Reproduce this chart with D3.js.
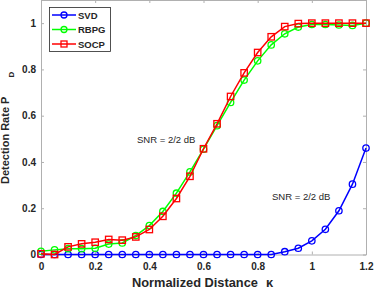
<!DOCTYPE html>
<html>
<head>
<meta charset="utf-8">
<script src="https://cdn.jsdelivr.net/npm/d3@7"></script>
<style>
  body { margin: 0; background: #fff; }
  text { font-family: "Liberation Sans", Arial, sans-serif; }
</style>
</head>
<body>
<div id="chart"></div>
<script>
// distances kappa, one point every 0.05
const kappa = [0, 0.05, 0.1, 0.15, 0.2, 0.25, 0.3, 0.35, 0.4, 0.45, 0.5, 0.55, 0.6,
  0.65, 0.7, 0.75, 0.8, 0.85, 0.9, 0.95, 1, 1.05, 1.1, 1.15, 1.2];
const svdVals = [0, 0, 0, 0, 0, 0, 0, 0, 0, 0, 0, 0, 0, 0, 0, 0, 0, 0,
  0.012, 0.027, 0.059, 0.109, 0.189, 0.304, 0.46];
const rbpgVals = [0.014, 0.02, 0.025, 0.025, 0.027, 0.045, 0.05, 0.082, 0.125, 0.186, 0.265,
  0.357, 0.455, 0.557, 0.657, 0.754, 0.837, 0.906, 0.954, 0.983, 0.994, 0.994, 0.992, 0.99, 1.0];
const socpVals = [0.003, 0, 0.033, 0.046, 0.053, 0.065, 0.062, 0.076, 0.108, 0.165, 0.242,
  0.338, 0.457, 0.565, 0.683, 0.785, 0.873, 0.941, 0.985, 0.998, 1, 1, 1, 1, 1];
const xTicks = [0, 0.2, 0.4, 0.6, 0.8, 1, 1.2];
const yTicks = [0, 0.2, 0.4, 0.6, 0.8, 1];

const series = [
  { name: 'SVD', values: svdVals, color: '#0000ff', marker: 'circle' },
  { name: 'RBPG', values: rbpgVals, color: '#00ff00', marker: 'circle' },
  { name: 'SOCP', values: socpVals, color: '#ff0000', marker: 'square' }
];

const width = 374, height = 289;
const margin = { left: 41, right: 8, top: 0, bottom: 34.5 };
const textColor = '#262626';
const axisColor = '#b0b0b0';

const svg = d3.select('#chart').append('svg')
  .attr('width', width)
  .attr('height', height);

const x = d3.scaleLinear().domain([0, 1.2]).range([margin.left, width - margin.right]);
const y = d3.scaleLinear().domain([0, 1.1]).range([height - margin.bottom, margin.top]);

// axes (box style, ticks inside)
const axisB = svg.append('g').attr('transform', `translate(0,${y(0)})`)
  .call(d3.axisBottom(x).tickValues(xTicks).tickSizeInner(-3).tickSizeOuter(0)
    .tickFormat(d3.format('')));
const axisT = svg.append('g').attr('transform', `translate(0,${y(1.1)})`)
  .call(d3.axisTop(x).tickValues(xTicks).tickSizeInner(-3).tickSizeOuter(0).tickFormat(''));
const axisL = svg.append('g').attr('transform', `translate(${x(0)},0)`)
  .call(d3.axisLeft(y).tickValues(yTicks).tickSizeInner(-3).tickSizeOuter(0)
    .tickFormat(d3.format('')));
const axisR = svg.append('g').attr('transform', `translate(${x(1.2)},0)`)
  .call(d3.axisRight(y).tickValues(yTicks).tickSizeInner(-3).tickSizeOuter(0).tickFormat(''));

[axisB, axisT, axisL, axisR].forEach((g) => {
  g.select('.domain').attr('stroke', axisColor).attr('stroke-width', 1);
  g.selectAll('.tick line').attr('stroke', axisColor);
  g.selectAll('.tick text')
    .attr('fill', textColor)
    .attr('font-size', 10)
    .attr('font-weight', 'bold')
    .attr('font-family', '"Liberation Sans", Arial, sans-serif');
});
axisB.selectAll('.tick text').attr('y', 8);
axisL.selectAll('.tick text').attr('x', -5);

// lines and markers
const line = d3.line().x((d) => x(d[0])).y((d) => y(d[1]));

series.forEach((s) => {
  const pts = kappa.map((k, i) => [k, s.values[i]]);
  const g = svg.append('g');
  g.append('path')
    .datum(pts)
    .attr('fill', 'none')
    .attr('stroke', s.color)
    .attr('stroke-width', 1.5)
    .attr('d', line);
  if (s.marker === 'circle') {
    g.selectAll('circle').data(pts).enter().append('circle')
      .attr('cx', (d) => x(d[0]))
      .attr('cy', (d) => y(d[1]))
      .attr('r', 3.2)
      .attr('fill', 'none')
      .attr('stroke', s.color)
      .attr('stroke-width', 1.3);
  } else {
    g.selectAll('rect').data(pts).enter().append('rect')
      .attr('x', (d) => x(d[0]) - 3.2)
      .attr('y', (d) => y(d[1]) - 3.2)
      .attr('width', 6.4)
      .attr('height', 6.4)
      .attr('fill', 'none')
      .attr('stroke', s.color)
      .attr('stroke-width', 1.3);
  }
});

// annotations
svg.append('text').attr('x', 137).attr('y', 143)
  .attr('font-size', 9.5).attr('fill', textColor).text('SNR = 2/2 dB');
svg.append('text').attr('x', 272).attr('y', 200)
  .attr('font-size', 9.5).attr('fill', textColor).text('SNR = 2/2 dB');

// axis labels
const xl = svg.append('text')
  .attr('x', 132).attr('y', 287)
  .attr('font-size', 12.8).attr('font-weight', 'bold').attr('fill', textColor);
xl.append('tspan').text('Normalized Distance');
xl.append('tspan').attr('dx', 8).text('\u03ba');

const yl = svg.append('text')
  .attr('transform', 'translate(9,184) rotate(-90)')
  .attr('font-size', 11).attr('font-weight', 'bold').attr('fill', textColor);
yl.append('tspan').text('Detection Rate P');
yl.append('tspan').attr('dx', 19).attr('dy', 5).attr('font-size', 8).text('D');

// legend
const leg = svg.append('g');
leg.append('rect')
  .attr('x', 49.5).attr('y', 7.5).attr('width', 61).attr('height', 44)
  .attr('fill', '#fff').attr('stroke', textColor).attr('stroke-width', 0.8);
series.forEach((s, i) => {
  const ly = 15 + i * 14.5;
  leg.append('line')
    .attr('x1', 52).attr('x2', 76).attr('y1', ly).attr('y2', ly)
    .attr('stroke', s.color).attr('stroke-width', 1.5);
  if (s.marker === 'circle') {
    leg.append('circle').attr('cx', 64).attr('cy', ly).attr('r', 3)
      .attr('fill', 'none').attr('stroke', s.color).attr('stroke-width', 1.3);
  } else {
    leg.append('rect').attr('x', 61).attr('y', ly - 3).attr('width', 6).attr('height', 6)
      .attr('fill', 'none').attr('stroke', s.color).attr('stroke-width', 1.3);
  }
  leg.append('text')
    .attr('x', 78).attr('y', ly + 3.5)
    .attr('font-size', 9.5).attr('font-weight', 'bold').attr('fill', textColor)
    .text(s.name);
});
</script>
</body>
</html>
